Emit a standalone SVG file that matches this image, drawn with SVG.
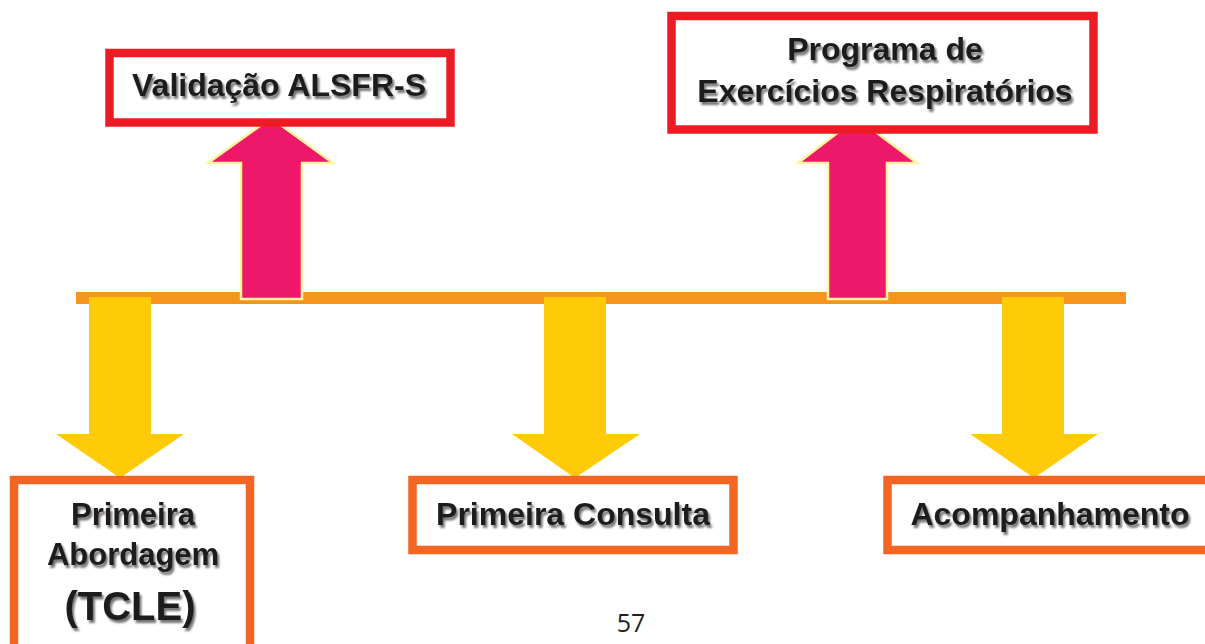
<svg xmlns="http://www.w3.org/2000/svg" width="1205" height="644" viewBox="0 0 1205 644">
<defs>
<filter id="sh" x="-10%" y="-20%" width="130%" height="150%">
<feGaussianBlur in="SourceAlpha" stdDeviation="1.2"/>
<feOffset dx="2" dy="2.5" result="b"/>
<feComponentTransfer><feFuncA type="linear" slope="0.55"/></feComponentTransfer>
<feMerge><feMergeNode/><feMergeNode in="SourceGraphic"/></feMerge>
</filter>
</defs>
<style>
.red{fill:#fff;stroke:#ED1C24;stroke-width:8.5}
.org{fill:#fff;stroke:#F26522;stroke-width:8.5}
.t{font-family:"Liberation Sans",Arial,sans-serif;font-weight:bold;font-size:32px;fill:#1E1C1D;text-anchor:middle;filter:url(#sh)}
.up{fill:#ED1869;stroke:#FFF59D;stroke-width:2.5;stroke-linejoin:miter}
.down{fill:#FFCB08}
.bar{fill:#F7941D}
</style>
<rect width="1205" height="644" fill="#fff"/>
<g id="connectors">
<rect class="bar" x="76" y="292" width="1050" height="12"/>
<polygon class="up" points="271,118 333,163 302,163 302,299 241,299 241,163 208,163"/>
<polygon class="up" points="857,118 917,163 887,163 887,299 828,299 828,163 798,163"/>
<polygon class="down" points="89,297 151,297 151,434 184,434 120,478 56,434 89,434"/>
<polygon class="down" points="544,297 606,297 606,434 640,434 575,478 512,434 544,434"/>
<polygon class="down" points="1002,297 1064,297 1064,434 1098,434 1034,478 970,434 1002,434"/>
</g>
<g id="node-validacao">
<rect class="red" x="109.5" y="53" width="341" height="69.5"/>
<text class="t" x="279" y="96">Validação ALSFR-S</text>
</g>
<g id="node-programa">
<rect class="red" x="671.5" y="16" width="422" height="113.5"/>
<text class="t" x="885" y="60">Programa de</text>
<text class="t" x="885" y="102">Exercícios Respiratórios</text>
</g>
<g id="node-abordagem">
<rect class="org" x="14" y="480" width="236" height="180"/>
<text class="t" x="133" y="525" style="font-size:31px">Primeira</text>
<text class="t" x="133" y="565" style="font-size:31px">Abordagem</text>
<text class="t" x="130" y="620" style="font-size:40px">(TCLE)</text>
</g>
<g id="node-consulta">
<rect class="org" x="412.5" y="480" width="321" height="70"/>
<text class="t" x="573" y="525">Primeira Consulta</text>
</g>
<g id="node-acompanhamento">
<rect class="org" x="887.5" y="480" width="330" height="70"/>
<text class="t" x="1050" y="525">Acompanhamento</text>
</g>
<text x="631" y="632" font-family="'Open Sans','Noto Sans',sans-serif" font-size="25" fill="#231F20" text-anchor="middle">57</text>
</svg>
